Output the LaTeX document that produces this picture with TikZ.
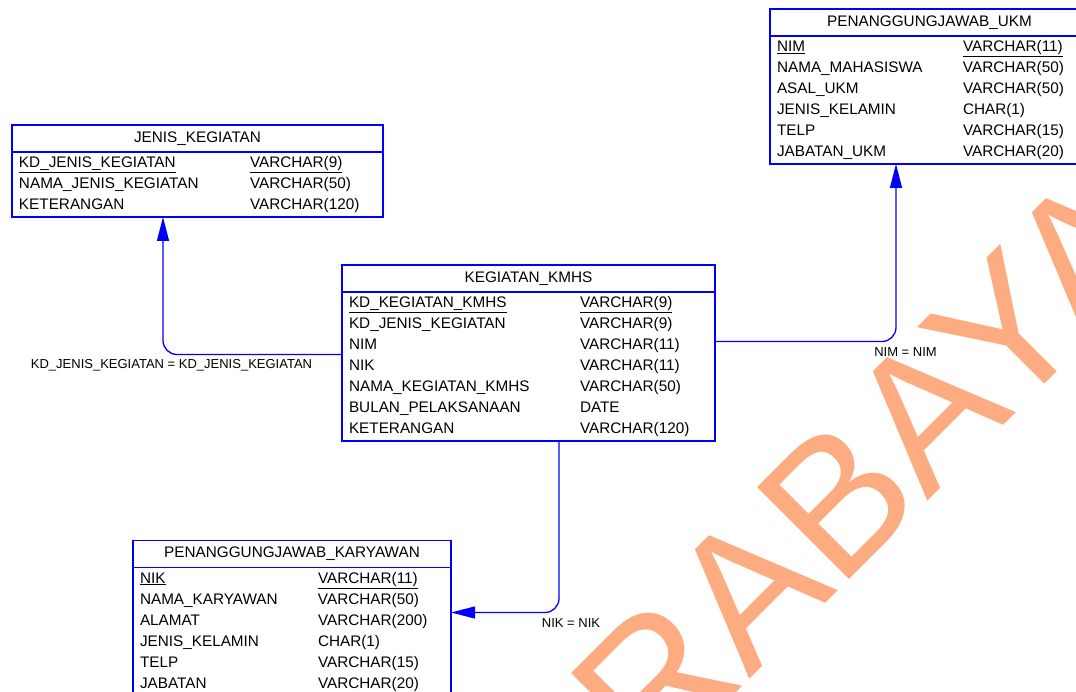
\documentclass[tikz,border=0pt]{standalone}
\usepackage{fontspec}
\setmainfont{Liberation Sans}
\usetikzlibrary{positioning,arrows.meta}
\definecolor{erblue}{RGB}{0,0,255}
\definecolor{wmark}{RGB}{253,171,128}

\begin{document}
\begin{tikzpicture}[x=1pt, y=-1pt,
    head/.style = {draw=erblue, line width=1.3pt, minimum height=27pt, inner sep=0pt, outer sep=0pt, font=\fontsize{15.3}{21}\selectfont},
    body/.style = {draw=erblue, line width=1.3pt, inner xsep=7pt, inner ysep=1pt, outer sep=0pt, font=\fontsize{15.3}{21}\selectfont},
    fk/.style = {erblue, line width=1.3pt, rounded corners=14pt, -{Triangle[length=24pt, width=12pt]}},
    rel/.style = {inner sep=0pt, font=\fontsize{13}{15}\selectfont},
    wm/.style = {anchor=base west, rotate=45, inner sep=0pt, text=wmark, font=\fontsize{189}{189}\selectfont}]
  \useasboundingbox (0,0) rectangle (1076,692);
  \clip (0,0) rectangle (1076,692);
  \node[wm] (wm) at (467,962) {SURABAYA};

  \node[head, minimum width=371pt] (jk-head) at (197.5,138.5) {JENIS\_KEGIATAN};
  \node[body, below=0pt of jk-head] (jk) {\begin{tabular}{@{}p{231pt}@{}p{126pt}@{}}
    \underline{KD\_JENIS\_KEGIATAN} & \underline{VARCHAR(9)}\\
    NAMA\_JENIS\_KEGIATAN & VARCHAR(50)\\
    KETERANGAN & VARCHAR(120)
  \end{tabular}};

  \node[head, minimum width=373pt] (kmhs-head) at (528.5,278.5) {KEGIATAN\_KMHS};
  \node[body, below=0pt of kmhs-head] (kmhs) {\begin{tabular}{@{}p{231pt}@{}p{128pt}@{}}
    \underline{KD\_KEGIATAN\_KMHS} & \underline{VARCHAR(9)}\\
    KD\_JENIS\_KEGIATAN & VARCHAR(9)\\
    NIM & VARCHAR(11)\\
    NIK & VARCHAR(11)\\
    NAMA\_KEGIATAN\_KMHS & VARCHAR(50)\\
    BULAN\_PELAKSANAAN & DATE\\
    KETERANGAN & VARCHAR(120)
  \end{tabular}};

  \node[head, minimum width=319pt] (ukm-head) at (929.5,22.5) {PENANGGUNGJAWAB\_UKM};
  \node[body, below=0pt of ukm-head] (ukm) {\begin{tabular}{@{}p{186pt}@{}p{119pt}@{}}
    \underline{NIM} & \underline{VARCHAR(11)}\\
    NAMA\_MAHASISWA & VARCHAR(50)\\
    ASAL\_UKM & VARCHAR(50)\\
    JENIS\_KELAMIN & CHAR(1)\\
    TELP & VARCHAR(15)\\
    JABATAN\_UKM & VARCHAR(20)
  \end{tabular}};

  \node[head, minimum width=318pt] (kary-head) at (292,554) {PENANGGUNGJAWAB\_KARYAWAN};
  \node[body, below=0pt of kary-head] (kary) {\begin{tabular}{@{}p{178pt}@{}p{126pt}@{}}
    \underline{NIK} & \underline{VARCHAR(11)}\\
    NAMA\_KARYAWAN & VARCHAR(50)\\
    ALAMAT & VARCHAR(200)\\
    JENIS\_KELAMIN & CHAR(1)\\
    TELP & VARCHAR(15)\\
    JABATAN & VARCHAR(20)
  \end{tabular}};

  \draw[fk] ([yshift=12pt]kmhs.west) -| ([xshift=-34.5pt]jk.south);
  \draw[fk] ([yshift=25pt]kmhs.east) -| ([xshift=-33.5pt]ukm.south);
  \draw[fk] ([xshift=30.5pt]kmhs.south) |- ([yshift=19pt]kary.east);

  \node[rel] (jk-rel) at (171.5,365) {KD\_JENIS\_KEGIATAN = KD\_JENIS\_KEGIATAN};
  \node[rel] (ukm-rel) at (905.5,352) {NIM = NIM};
  \node[rel] (kary-rel) at (571,623) {NIK = NIK};
\end{tikzpicture}
\end{document}
